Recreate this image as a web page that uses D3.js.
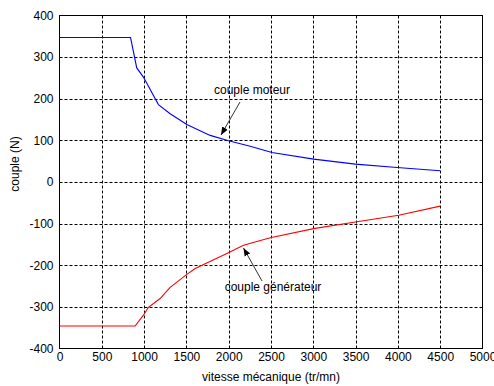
<!DOCTYPE html>
<html>
<head>
<meta charset="utf-8">
<script src="https://cdn.jsdelivr.net/npm/d3@7"></script>
<style>
  body { margin: 0; background: #fff; }
  text { font-family: "Liberation Sans", Arial, sans-serif; font-size: 12px; fill: #000; }
</style>
</head>
<body>
<div id="chart"></div>
<script>
var speedMotor = [0, 840, 913, 992, 1169, 1308, 1505, 1781, 1998, 2254, 2511, 3004, 3497, 3990, 4500];
var torqueMotor = [347, 347, 274, 252, 186, 164, 138, 112, 99, 86, 71, 55, 43, 35, 27];

var speedGen = [0, 893, 992, 1051, 1189, 1308, 1505, 1604, 1978, 2175, 2491, 3004, 3497, 4009, 4500];
var torqueGen = [-346, -346, -320, -301, -280, -253, -222, -208, -172, -152, -134, -112, -96, -80, -58];

var xTicks = [0, 500, 1000, 1500, 2000, 2500, 3000, 3500, 4000, 4500, 5000];
var yTicks = [-400, -300, -200, -100, 0, 100, 200, 300, 400];

var width = 494, height = 386;
var pLeft = 59.5, pRight = 482.5, pTop = 15.5, pBottom = 348.5;

var svg = d3.select("#chart").append("svg")
  .attr("width", width)
  .attr("height", height);

var x = d3.scaleLinear().domain([0, 5000]).range([pLeft, pRight]);
var y = d3.scaleLinear().domain([-400, 400]).range([pBottom, pTop]);

// plain hyphen minus like the original
var fmt = function(d) { return String(d); };

// grid
svg.append("g").selectAll("line")
  .data(xTicks.slice(1, -1))
  .enter().append("line")
  .attr("x1", function(d) { return Math.round(x(d)) + 0.5; })
  .attr("x2", function(d) { return Math.round(x(d)) + 0.5; })
  .attr("y1", pTop).attr("y2", pBottom)
  .attr("stroke", "#000").attr("stroke-dasharray", "3,2");

svg.append("g").selectAll("line")
  .data(yTicks.slice(1, -1))
  .enter().append("line")
  .attr("y1", function(d) { return Math.round(y(d)) + 0.5; })
  .attr("y2", function(d) { return Math.round(y(d)) + 0.5; })
  .attr("x1", pLeft).attr("x2", pRight)
  .attr("stroke", "#000").attr("stroke-dasharray", "3,2");

// frame
svg.append("rect")
  .attr("x", pLeft).attr("y", pTop)
  .attr("width", pRight - pLeft).attr("height", pBottom - pTop)
  .attr("fill", "none").attr("stroke", "#000");

// axes labels
var xAxis = d3.axisBottom(x).tickValues(xTicks).tickSize(0).tickPadding(4).tickFormat(fmt);
svg.append("g").attr("transform", "translate(0," + pBottom + ")").call(xAxis)
  .call(function(g) { g.select(".domain").remove(); })
  .selectAll("text").style("font-size", "12px").style("font-family", "Liberation Sans, Arial, sans-serif").attr("fill", "#000");

var yAxis = d3.axisLeft(y).tickValues(yTicks).tickSize(0).tickPadding(6).tickFormat(fmt);
svg.append("g").attr("transform", "translate(" + pLeft + ",0)").call(yAxis)
  .call(function(g) { g.select(".domain").remove(); })
  .selectAll("text").style("font-size", "12px").style("font-family", "Liberation Sans, Arial, sans-serif").attr("fill", "#000");

svg.append("text")
  .attr("x", (pLeft + pRight) / 2).attr("y", 381)
  .attr("text-anchor", "middle")
  .text("vitesse mécanique (tr/mn)");

svg.append("text")
  .attr("transform", "translate(19,164) rotate(-90)")
  .attr("text-anchor", "middle")
  .text("couple (N)");

// curves
var line = d3.line()
  .x(function(d) { return x(d[0]); })
  .y(function(d) { return y(d[1]); });

svg.append("path")
  .datum(d3.zip(speedMotor, torqueMotor))
  .attr("d", line)
  .attr("fill", "none").attr("stroke", "#0000ff").attr("stroke-width", 1.1);

svg.append("path")
  .datum(d3.zip(speedGen, torqueGen))
  .attr("d", line)
  .attr("fill", "none").attr("stroke", "#ff0000").attr("stroke-width", 1.1);

// annotations
svg.append("defs").append("marker")
  .attr("id", "head")
  .attr("viewBox", "0 0 10 10")
  .attr("refX", 10).attr("refY", 5)
  .attr("markerWidth", 8).attr("markerHeight", 8)
  .attr("markerUnits", "userSpaceOnUse")
  .attr("orient", "auto")
  .append("path").attr("d", "M0,1 L10,5 L0,9 Z").attr("fill", "#000");

svg.append("line")
  .attr("x1", 240).attr("y1", 102)
  .attr("x2", 221).attr("y2", 135)
  .attr("stroke", "#333").attr("marker-end", "url(#head)");

svg.append("text")
  .attr("x", 252).attr("y", 94)
  .attr("text-anchor", "middle")
  .text("couple moteur");

svg.append("line")
  .attr("x1", 262).attr("y1", 281)
  .attr("x2", 243.5).attr("y2", 248)
  .attr("stroke", "#333").attr("marker-end", "url(#head)");

svg.append("text")
  .attr("x", 273).attr("y", 291)
  .attr("text-anchor", "middle")
  .text("couple générateur");
</script>
</body>
</html>
